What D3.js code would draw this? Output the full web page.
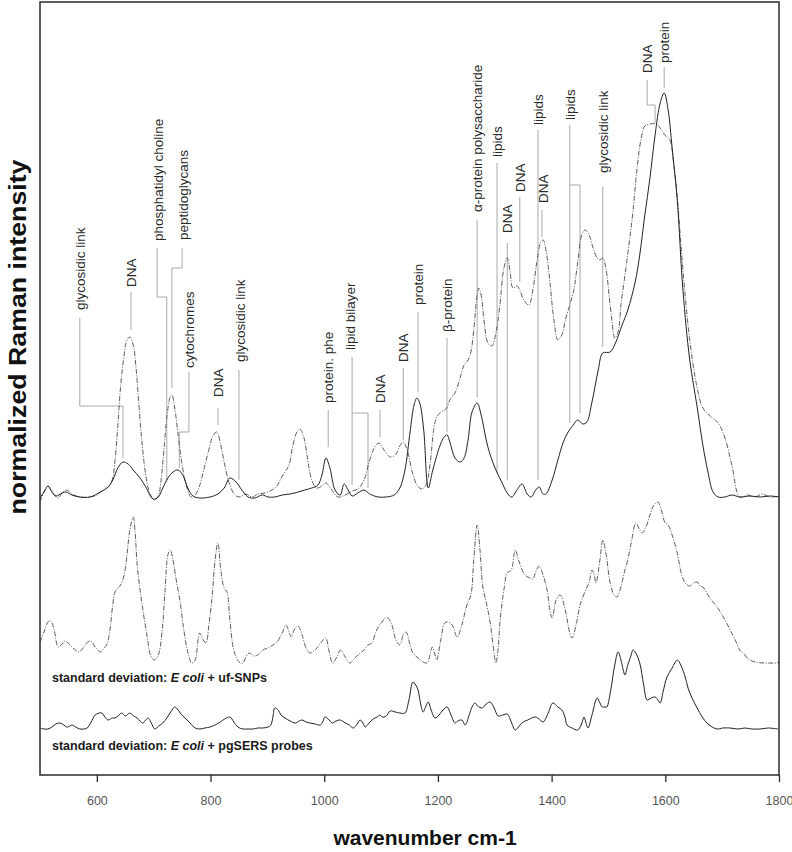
<!DOCTYPE html>
<html>
<head>
<meta charset="utf-8">
<script src="https://cdn.jsdelivr.net/npm/d3@7"></script>
<style>
  html, body { margin: 0; padding: 0; background: #fff; }
  svg { display: block; font-family: "Liberation Sans", Arial, sans-serif; }
</style>
</head>
<body>
<svg id="chart" width="792" height="852"></svg>
<script>
// ---------------- DATA ----------------
// x: wavenumber (cm-1), y: normalized intensity (arbitrary units)
const xTicks = [600, 800, 1000, 1200, 1400, 1600, 1800];

// mean spectrum, E coli + pgSERS probes (solid)
const meanPgSERS = [
[500,-1],[509,7],[514,11],[521,5],[528,1],[539,4],[546,5],[556,2],[570,0],[588,0],[606,5],[620,10],[628,17],[637,29],[646,35],[655,33],[664,27],[676,19],[686,10],[699,-2],[708,0],[716,9],[725,19],[734,25],[743,27],[752,21],[760,9],[769,1],[781,-1],[799,0],[813,3],[824,9],[834,19],[845,15],[855,7],[866,0],[878,-1],[891,2],[901,0],[913,0],[926,2],[940,3],[954,5],[966,7],[978,9],[989,12],[996,22],[1003,39],[1010,29],[1019,7],[1028,2],[1035,13],[1042,7],[1049,1],[1059,4],[1070,7],[1080,3],[1095,0],[1109,0],[1123,2],[1133,9],[1142,27],[1151,65],[1158,92],[1163,99],[1168,94],[1175,67],[1183,9],[1191,27],[1204,52],[1211,60],[1216,62],[1221,55],[1230,39],[1239,35],[1246,39],[1253,57],[1260,85],[1269,94],[1276,82],[1285,57],[1292,42],[1302,27],[1313,14],[1323,3],[1330,0],[1339,7],[1348,13],[1357,3],[1364,0],[1372,7],[1378,10],[1385,3],[1390,3],[1401,17],[1411,37],[1420,54],[1429,65],[1438,72],[1446,77],[1455,73],[1462,75],[1471,95],[1482,127],[1490,144],[1503,145],[1513,155],[1524,172],[1534,187],[1547,215],[1555,242],[1564,282],[1573,319],[1582,362],[1591,394],[1598,404],[1605,387],[1612,349],[1621,297],[1631,207],[1643,137],[1656,90],[1666,52],[1675,25],[1684,5],[1693,0],[1705,0],[1717,2],[1731,0],[1749,1],[1767,0],[1784,1],[1800,0]
];

// mean spectrum, E coli + uf-SNPs (dash-dot)
const meanUfSNPs = [
[500,-5],[507,5],[514,11],[523,4],[532,-1],[540,5],[547,7],[556,3],[570,0],[588,0],[600,2],[611,7],[620,10],[627,17],[632,37],[637,72],[642,112],[648,142],[653,157],[658,160],[664,152],[669,129],[674,92],[679,57],[686,22],[693,4],[701,-3],[708,1],[713,17],[718,47],[723,79],[729,100],[732,102],[737,89],[743,62],[750,32],[757,12],[766,0],[773,2],[780,10],[788,27],[797,47],[804,61],[811,65],[818,52],[825,32],[834,12],[843,2],[852,0],[862,3],[873,0],[883,3],[896,4],[908,7],[917,11],[924,19],[931,25],[938,32],[945,52],[952,65],[957,68],[964,60],[971,37],[978,17],[986,9],[996,11],[1003,14],[1012,8],[1024,0],[1037,2],[1049,6],[1059,8],[1070,17],[1079,35],[1088,49],[1096,54],[1105,47],[1116,40],[1125,42],[1133,51],[1139,55],[1146,47],[1154,27],[1163,12],[1172,8],[1179,12],[1186,32],[1193,69],[1198,80],[1205,85],[1214,88],[1221,97],[1230,104],[1239,119],[1246,132],[1253,137],[1258,145],[1263,167],[1269,202],[1272,209],[1276,202],[1281,177],[1288,154],[1295,151],[1302,164],[1309,192],[1316,229],[1322,239],[1327,225],[1332,209],[1339,211],[1344,207],[1351,197],[1360,192],[1367,207],[1374,235],[1381,255],[1385,257],[1390,247],[1397,215],[1404,177],[1411,157],[1418,162],[1425,179],[1432,192],[1439,207],[1446,235],[1453,262],[1459,267],[1466,262],[1473,249],[1480,239],[1485,237],[1490,239],[1496,227],[1501,202],[1506,177],[1511,159],[1517,165],[1522,192],[1529,222],[1536,252],[1543,285],[1550,327],[1557,357],[1564,371],[1573,373],[1584,373],[1591,369],[1599,362],[1608,357],[1615,332],[1621,300],[1631,227],[1643,157],[1656,109],[1666,89],[1679,81],[1693,74],[1705,59],[1717,32],[1731,0],[1745,2],[1758,0],[1770,3],[1784,0],[1800,1]
];

// standard deviation, E coli + uf-SNPs (dash-dot)
const sdUfSNPs = [
[500,21],[507,31],[514,41],[519,42],[525,33],[532,16],[539,19],[544,22],[553,18],[562,13],[569,11],[577,16],[584,21],[590,22],[597,16],[606,11],[613,15],[618,19],[623,33],[628,58],[632,71],[637,75],[642,78],[648,88],[653,108],[658,133],[664,146],[667,133],[671,98],[676,73],[681,53],[688,28],[695,7],[701,3],[708,8],[715,33],[720,73],[725,108],[729,113],[734,103],[739,85],[746,63],[753,33],[760,11],[767,0],[773,3],[778,23],[781,30],[787,23],[792,20],[797,38],[803,68],[808,103],[813,120],[818,93],[824,75],[829,71],[834,43],[840,15],[845,6],[852,0],[857,0],[864,8],[869,10],[876,7],[883,8],[892,13],[901,15],[910,18],[917,21],[926,30],[933,38],[938,31],[942,26],[947,33],[954,37],[961,28],[968,15],[975,10],[984,13],[991,18],[998,23],[1003,25],[1008,13],[1015,0],[1022,6],[1029,13],[1037,6],[1045,0],[1054,5],[1063,10],[1070,13],[1077,18],[1084,20],[1089,28],[1095,36],[1102,41],[1107,45],[1112,45],[1119,38],[1126,23],[1133,18],[1139,28],[1144,31],[1151,18],[1156,10],[1165,5],[1174,1],[1181,0],[1186,8],[1190,16],[1195,8],[1198,3],[1205,23],[1212,40],[1218,41],[1225,38],[1234,26],[1242,38],[1251,58],[1258,68],[1263,103],[1269,138],[1274,113],[1279,76],[1286,58],[1292,40],[1297,18],[1302,0],[1306,15],[1309,40],[1316,73],[1322,90],[1329,93],[1336,113],[1343,101],[1353,88],[1362,85],[1367,84],[1372,91],[1378,97],[1385,88],[1392,73],[1397,53],[1401,45],[1408,63],[1415,68],[1424,53],[1432,30],[1436,25],[1443,38],[1450,58],[1453,63],[1460,73],[1464,78],[1467,83],[1471,93],[1475,88],[1478,80],[1485,103],[1490,123],[1496,108],[1503,80],[1510,68],[1515,66],[1524,81],[1529,93],[1534,103],[1541,123],[1548,140],[1555,133],[1559,130],[1566,136],[1573,148],[1580,158],[1587,161],[1594,151],[1599,141],[1605,138],[1612,128],[1621,110],[1628,90],[1635,80],[1643,77],[1650,80],[1656,81],[1661,77],[1666,76],[1675,68],[1684,61],[1691,56],[1700,48],[1707,41],[1714,33],[1723,23],[1731,13],[1737,10],[1744,5],[1749,3],[1758,1],[1772,0],[1784,0],[1796,0],[1800,1]
];

// standard deviation, E coli + pgSERS probes (solid)
const sdPgSERS = [
[500,1],[507,0],[514,0],[521,2],[528,5],[535,6],[542,4],[547,2],[553,3],[556,4],[563,2],[570,0],[577,0],[583,1],[590,7],[597,14],[604,16],[609,16],[614,12],[620,9],[627,11],[632,11],[639,14],[644,16],[650,13],[655,15],[658,16],[665,13],[671,11],[676,8],[681,6],[686,9],[690,11],[695,7],[702,0],[709,3],[716,6],[723,11],[730,17],[737,22],[743,19],[748,15],[755,11],[764,6],[773,1],[781,0],[790,1],[799,2],[808,4],[817,7],[825,10],[834,12],[841,7],[848,2],[857,0],[866,0],[875,0],[883,1],[892,1],[901,2],[906,4],[910,13],[913,21],[919,19],[924,14],[931,11],[940,8],[949,6],[956,8],[961,9],[968,7],[975,6],[984,5],[993,4],[998,8],[1001,12],[1007,10],[1014,6],[1021,8],[1028,9],[1037,6],[1044,4],[1051,1],[1058,5],[1063,9],[1068,6],[1072,2],[1079,6],[1086,10],[1093,12],[1098,14],[1102,12],[1109,13],[1116,18],[1125,17],[1133,16],[1142,16],[1149,29],[1156,47],[1161,44],[1165,39],[1170,24],[1174,17],[1179,23],[1183,27],[1188,19],[1195,11],[1202,14],[1209,19],[1216,22],[1223,14],[1230,6],[1235,8],[1242,9],[1248,4],[1255,14],[1260,22],[1265,26],[1270,23],[1278,21],[1285,25],[1292,27],[1299,21],[1306,13],[1314,14],[1322,15],[1329,7],[1336,-1],[1343,3],[1350,7],[1358,9],[1371,12],[1378,10],[1385,7],[1394,16],[1402,26],[1411,22],[1418,19],[1424,11],[1427,4],[1436,1],[1446,-1],[1452,4],[1457,12],[1460,7],[1464,1],[1471,14],[1480,31],[1485,26],[1489,22],[1494,22],[1497,22],[1504,39],[1511,64],[1517,77],[1522,69],[1526,59],[1529,54],[1534,64],[1540,74],[1543,79],[1548,76],[1555,66],[1562,44],[1568,29],[1575,31],[1582,32],[1587,29],[1591,26],[1596,37],[1603,52],[1612,61],[1621,69],[1628,63],[1635,52],[1640,41],[1647,31],[1656,21],[1665,12],[1675,5],[1691,0],[1701,1],[1714,1],[1728,0],[1740,1],[1752,0],[1767,0],[1781,1],[1798,0]
];

// band assignments: label, text position [wn, intensity], leader polyline
const bandLabels = ["glycosidic link","DNA","phosphatidyl choline","peptidoglycans","cytochromes","DNA","glycosidic link","protein. phe","lipid bilayer","DNA","DNA","protein","β-protein","α-protein polysaccharide","lipids","DNA","DNA","lipids","DNA","lipids","glycosidic link","DNA","protein"];
const bandText = [[570,187],[660,210],[708,256],[752,257],[762,129],[813,100],[852,135],[1007,94],[1045,147],[1098,94],[1139,135],[1165,192],[1216,165],[1269,285],[1304,340],[1322,264],[1344,305],[1376,372],[1385,294],[1432,377],[1490,324],[1568,424],[1599,434]];
const bandLeaders = [
  [[[570,179],[570,91],[646,91],[646,39]]],
  [[[660,205],[660,167]]],
  [[[706,249],[706,200],[723,200],[723,15]]],
  [[[750,249],[750,229],[732,229],[732,109]]],
  [[[762,125],[762,65],[745,65],[745,29]]],
  [[[813,89],[813,72]]],
  [[[850,127],[850,17]]],
  [[[1007,87],[1007,50]]],
  [[[1049,140],[1049,12]],[[1049,84],[1077,84],[1077,9]]],
  [[[1098,87],[1098,60]]],
  [[[1139,129],[1139,57]]],
  [[[1165,185],[1165,105]]],
  [[[1216,159],[1216,65]]],
  [[[1269,277],[1269,100]]],
  [[[1304,334],[1304,24]]],
  [[[1322,254],[1322,17]]],
  [[[1344,300],[1344,215]]],
  [[[1376,367],[1376,17]]],
  [[[1383,287],[1383,260]]],
  [[[1432,372],[1432,74]],[[1432,312],[1450,312],[1450,84]]],
  [[[1490,310],[1490,150]]],
  [[[1568,417],[1568,392],[1582,392],[1582,374]]],
  [[[1598,430],[1598,409]]]
];

// ---------------- CHART ----------------
const svg = d3.select("#chart");
const pLeft = 40, pRight = 779, pTop = 2, pBottom = 775;

const x = d3.scaleLinear().domain([500, 1800]).range([pLeft, pRight]);
const yMean = d3.scaleLinear().domain([0, 400]).range([497, 97]);
const ySdU  = d3.scaleLinear().domain([0, 400]).range([663, 263]);
const ySdP  = d3.scaleLinear().domain([0, 400]).range([729, 329]);

svg.append("defs").append("clipPath").attr("id", "plotclip")
  .append("rect").attr("x", pLeft).attr("y", pTop).attr("width", pRight - pLeft).attr("height", pBottom - pTop);

const lineFor = (yS) => d3.line()
  .x(d => x(d[0])).y(d => yS(d[1]))
  .curve(d3.curveCatmullRom.alpha(0.5));

// leader lines
const lead = svg.append("g").attr("fill", "none").attr("stroke", "#a8a8a8").attr("stroke-width", 1);
const leaderLine = d3.line().x(d => x(d[0])).y(d => yMean(d[1]));
bandLeaders.forEach(paths => paths.forEach(p => lead.append("path").attr("d", leaderLine(p))));

// spectra
const plot = svg.append("g").attr("clip-path", "url(#plotclip)").attr("fill", "none");
const dashDot = "5,1.5,1,1.5";
plot.append("path").attr("d", lineFor(yMean)(meanUfSNPs))
  .attr("stroke", "#555").attr("stroke-width", 0.95).attr("stroke-dasharray", dashDot);
plot.append("path").attr("d", lineFor(yMean)(meanPgSERS))
  .attr("stroke", "#222").attr("stroke-width", 1);
plot.append("path").attr("d", lineFor(ySdU)(sdUfSNPs))
  .attr("stroke", "#555").attr("stroke-width", 0.95).attr("stroke-dasharray", dashDot);
plot.append("path").attr("d", lineFor(ySdP)(sdPgSERS))
  .attr("stroke", "#222").attr("stroke-width", 1);

// band labels (rotated)
const lab = svg.append("g").attr("font-size", "13.5px").attr("fill", "#2a2a2a");
bandLabels.forEach((t, i) => {
  const [wn, v] = bandText[i];
  lab.append("text")
    .attr("transform", `translate(${x(wn)},${yMean(v)}) rotate(-90)`)
    .attr("dy", "0.35em")
    .text(t);
});

// std-dev captions
function caption(yPos, suffix) {
  const t = svg.append("text").attr("x", x(521)).attr("y", yPos)
    .attr("font-size", "12.5px").attr("font-weight", "bold").attr("fill", "#1a1a1a");
  t.append("tspan").text("standard deviation: ");
  t.append("tspan").attr("font-style", "italic").text("E coli");
  t.append("tspan").text(" + " + suffix);
}
caption(ySdU(-19), "uf-SNPs");
caption(ySdP(-21), "pgSERS probes");

// frame
svg.append("rect").attr("x", pLeft).attr("y", pTop).attr("width", pRight - pLeft).attr("height", pBottom - pTop)
  .attr("fill", "none").attr("stroke", "#2a2a2a").attr("stroke-width", 1.5);

// x axis
const xAxis = d3.axisBottom(x).tickValues(xTicks).tickSize(7).tickPadding(14).tickFormat(d3.format("d"));
const ax = svg.append("g").attr("transform", `translate(0,${pBottom})`).call(xAxis);
ax.select(".domain").remove();
ax.selectAll(".tick line").attr("stroke", "#2a2a2a").attr("stroke-width", 1.3);
ax.selectAll(".tick text").attr("font-size", "12.5px").attr("fill", "#555")
  .attr("font-family", "'Liberation Sans', Arial, sans-serif");

// axis titles
svg.append("text").attr("x", 425).attr("y", 845).attr("text-anchor", "middle")
  .attr("font-size", "21px").attr("font-weight", "bold").attr("fill", "#111")
  .text("wavenumber cm-1");
svg.append("text").attr("transform", "translate(26,337) rotate(-90)").attr("text-anchor", "middle")
  .attr("font-size", "24px").attr("font-weight", "bold").attr("fill", "#111")
  .attr("textLength", 355).attr("lengthAdjust", "spacingAndGlyphs")
  .text("normalized Raman intensity");
</script>
</body>
</html>
